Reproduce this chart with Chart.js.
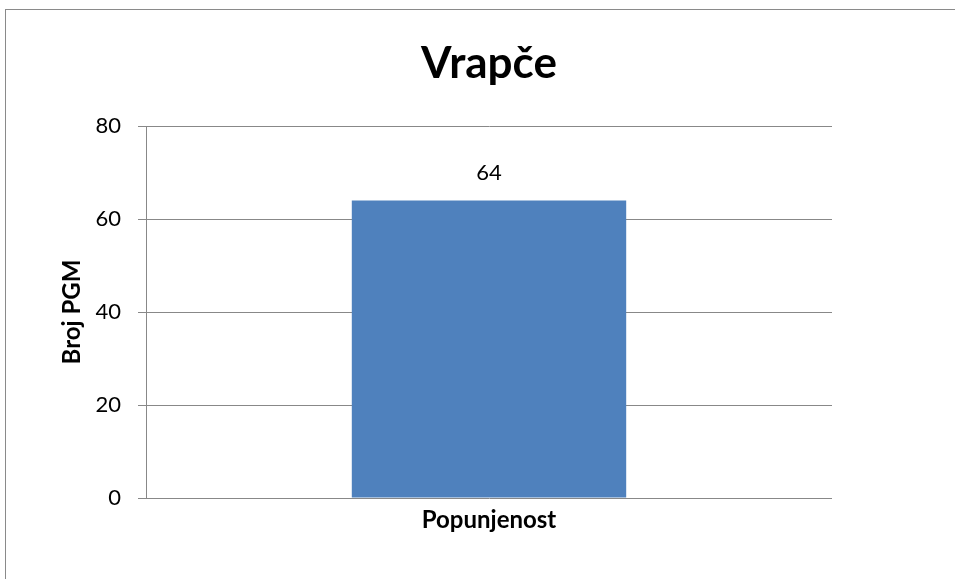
<!DOCTYPE html>
<html>
<head>
<meta charset="utf-8">
<script src="https://cdn.jsdelivr.net/npm/chart.js@4"></script>
<style>
  body { margin: 0; background: #fff; }
  #wrap { position: relative; width: 955px; height: 579px; overflow: hidden; }
  #frame { position: absolute; left: 5px; top: 9px; width: 1000px; height: 600px;
           border-left: 1px solid #8a8a8a; border-top: 1px solid #8a8a8a; }
  canvas { position: absolute; left: 0; top: 0; }
</style>
</head>
<body>
<div id="wrap">
  <div id="frame"></div>
  <canvas id="chart" width="955" height="579"></canvas>
</div>
<script>
// chart data
const categories = ['Popunjenost'];
const values = [64];
const yTicks = [0, 20, 40, 60, 80];
const chartTitle = 'Vrapče';

const FONT = 'Lato, "Open Sans", sans-serif';

// Title centred over the plot area, plus value labels above bars
const extras = {
  id: 'extras',
  afterDatasetsDraw(chart) {
    const ctx = chart.ctx;
    const area = chart.chartArea;
    const meta = chart.getDatasetMeta(0);
    ctx.save();
    ctx.fillStyle = '#000';
    ctx.textAlign = 'center';

    ctx.font = 'bold 44px ' + FONT;
    ctx.textBaseline = 'alphabetic';
    ctx.fillText(chartTitle, (area.left + area.right) / 2, 78);

    ctx.font = '22px ' + FONT;
    ctx.textBaseline = 'middle';
    meta.data.forEach((bar, i) => {
      ctx.fillText(String(values[i]), bar.x, bar.y - 27);
    });
    ctx.restore();
  }
};

new Chart(document.getElementById('chart').getContext('2d'), {
  type: 'bar',
  data: {
    labels: categories,
    datasets: [{
      data: values,
      backgroundColor: '#4f81bd',
      barPercentage: 0.4,
      categoryPercentage: 1
    }]
  },
  options: {
    responsive: false,
    animation: false,
    layout: { padding: { left: 58, right: 123, top: 126, bottom: 0 } },
    plugins: {
      legend: { display: false },
      tooltip: { enabled: false },
      title: { display: false }
    },
    scales: {
      x: {
        grid: { display: false, drawTicks: false },
        border: { display: false },
        ticks: { color: '#000', padding: 8, font: { family: FONT, size: 24, weight: 'bold' } },
        afterFit(scale) { scale.height = 81; }
      },
      y: {
        min: 0,
        max: 80,
        afterBuildTicks(scale) { scale.ticks = yTicks.map(v => ({ value: v })); },
        grid: { color: '#888', lineWidth: 1, tickLength: 8 },
        border: { color: '#888', width: 1 },
        ticks: { color: '#000', padding: 17, font: { family: FONT, size: 22 } },
        title: {
          display: true,
          text: 'Broj PGM',
          color: '#000',
          font: { family: FONT, size: 24, weight: 'bold' },
          padding: 0
        },
        afterFit(scale) { scale.width = 88; }
      }
    }
  },
  plugins: [extras]
});
</script>
</body>
</html>
